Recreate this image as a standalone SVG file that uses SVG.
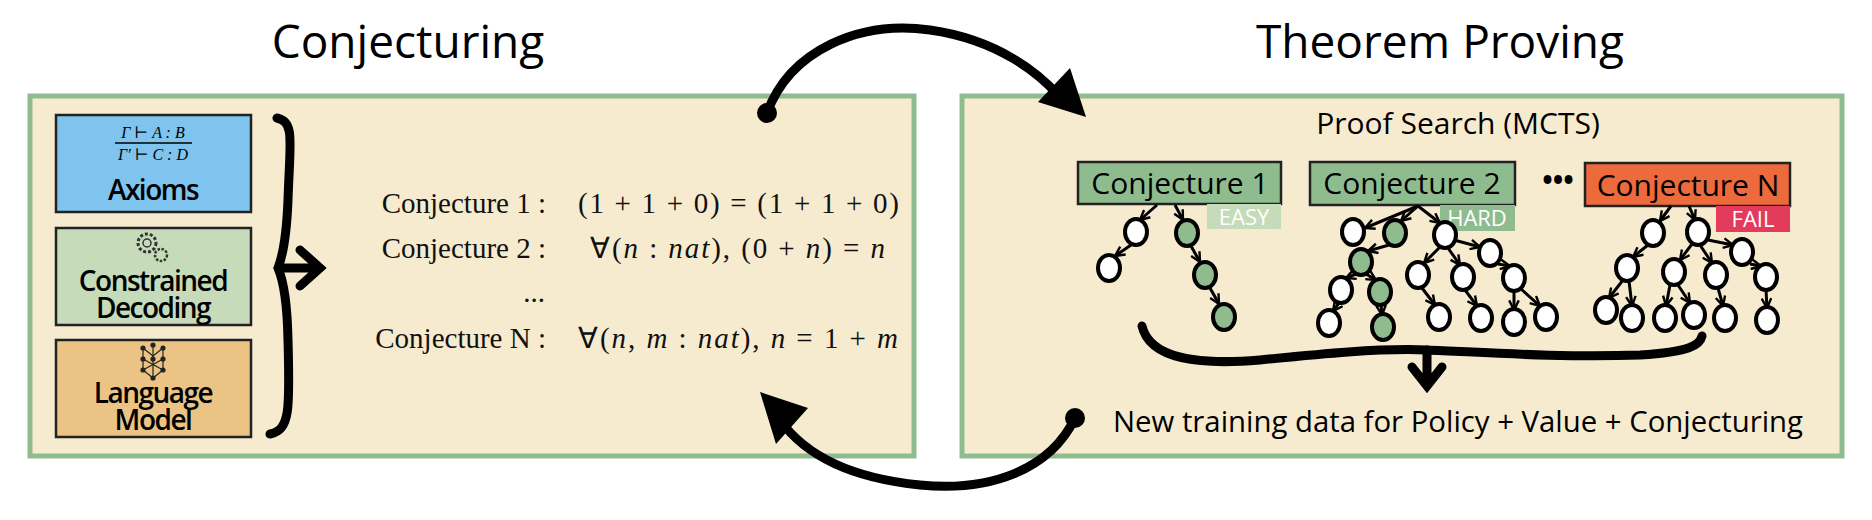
<svg xmlns="http://www.w3.org/2000/svg" width="1872" height="520" viewBox="0 0 1872 520">
<defs>
<style>
.panel{fill:#f7ebcf;stroke:#8fbc8f;stroke-width:5}
.sans{font-family:"Open Sans","DejaVu Sans",sans-serif}
.serif{font-family:"Liberation Serif","DejaVu Serif",serif}
.lbl{font-family:"Open Sans",sans-serif;font-size:30px;fill:#000}
.cj{font-family:"Liberation Serif",serif;font-size:29px;fill:#111}
.bx{font-family:"Open Sans",sans-serif;font-size:28px;font-weight:600;letter-spacing:-1.5px}
.box{stroke:#222;stroke-width:2.5}
.w{fill:#fff;stroke:#000;stroke-width:4}
.g{fill:#8fbc8f;stroke:#000;stroke-width:4}
.e{stroke:#000;stroke-width:3;fill:none;marker-end:url(#ah)}
.thick{stroke:#000;stroke-width:9;fill:none;stroke-linecap:round}
</style>
<marker id="ah" viewBox="0 0 10 10" refX="9" refY="5" markerWidth="4" markerHeight="4" orient="auto" markerUnits="strokeWidth"><path d="M1,1 L9,5 L1,9" fill="none" stroke="#000" stroke-width="2"/></marker>
</defs>
<rect width="1872" height="520" fill="#fff"/>
<text x="408" y="58" text-anchor="middle" class="sans" font-size="46">Conjecturing</text>
<text x="1440" y="58" text-anchor="middle" class="sans" font-size="46">Theorem Proving</text>

<g id="left-panel">
<rect class="panel" x="30" y="96" width="884" height="360"/>
</g>
<g id="axioms">
<rect class="box" x="56" y="115" width="195" height="97" fill="#7fc3ef"/>
<text x="153" y="138" text-anchor="middle" class="serif" font-size="16" font-style="italic">Γ ⊢ A : B</text>
<line x1="115" y1="143" x2="192" y2="143" stroke="#000" stroke-width="1.5"/>
<text x="153" y="160" text-anchor="middle" class="serif" font-size="16" font-style="italic">Γ′ ⊢ C : D</text>
<text x="153" y="200" text-anchor="middle" class="bx">Axioms</text>
</g>
<g id="constrained-decoding">
<rect class="box" x="56" y="228" width="195" height="97" fill="#c6dbb9"/>
<circle cx="147" cy="243" r="9" fill="none" stroke="#333" stroke-width="3" stroke-dasharray="3 2"/>
<circle cx="147" cy="243" r="4" fill="none" stroke="#333" stroke-width="1.5"/>
<circle cx="161" cy="255" r="6" fill="none" stroke="#333" stroke-width="2.5" stroke-dasharray="2.5 1.5"/>
<text x="153" y="291" text-anchor="middle" class="bx">Constrained</text>
<text x="153" y="318" text-anchor="middle" class="bx">Decoding</text>
</g>
<g id="language-model">
<rect class="box" x="56" y="340" width="195" height="97" fill="#ebc485"/>
<g stroke="#222" stroke-width="1.2" fill="#222">
<line x1="143" y1="348" x2="153" y2="356"/><line x1="163" y1="348" x2="153" y2="356"/>
<line x1="143" y1="348" x2="143" y2="370"/><line x1="163" y1="348" x2="163" y2="370"/>
<line x1="143" y1="359" x2="163" y2="370"/><line x1="163" y1="359" x2="143" y2="370"/>
<line x1="143" y1="370" x2="153" y2="378"/><line x1="163" y1="370" x2="153" y2="378"/>
<line x1="153" y1="345" x2="153" y2="378"/>
<circle cx="153" cy="345" r="2"/><circle cx="143" cy="348" r="2"/><circle cx="163" cy="348" r="2"/>
<circle cx="143" cy="359" r="2"/><circle cx="163" cy="359" r="2"/><circle cx="153" cy="359" r="2"/>
<circle cx="143" cy="370" r="2"/><circle cx="163" cy="370" r="2"/><circle cx="153" cy="378" r="2"/>
</g>
<text x="153" y="403" text-anchor="middle" class="bx">Language</text>
<text x="153" y="430" text-anchor="middle" class="bx">Model</text>
</g>
<g id="conjectures">
<path d="M277,118 C295,122 290,140 288,200 C286,250 280,262 278,268 C281,275 287,290 288,340 C290,410 290,430 270,434" class="thick" stroke-width="6"/>
<path d="M279,268 L318,268 M300,250 L320,268 L300,286" class="thick" stroke-width="7"/>
<text x="546" y="213" text-anchor="end" class="cj">Conjecture 1 :</text>
<text x="578" y="213" class="cj" textLength="321" lengthAdjust="spacing">(1 + 1 + 0) = (1 + 1 + 0)</text>
<text x="546" y="258" text-anchor="end" class="cj">Conjecture 2 :</text>
<text x="590" y="258" class="cj" textLength="295" lengthAdjust="spacing">∀(<tspan font-style="italic">n</tspan> : <tspan font-style="italic">nat</tspan>), (0 + <tspan font-style="italic">n</tspan>) = <tspan font-style="italic">n</tspan></text>
<text x="534" y="302" text-anchor="middle" class="cj">...</text>
<text x="546" y="348" text-anchor="end" class="cj">Conjecture N :</text>
<text x="578" y="348" class="cj" textLength="320" lengthAdjust="spacing">∀(<tspan font-style="italic">n</tspan>, <tspan font-style="italic">m</tspan> : <tspan font-style="italic">nat</tspan>), <tspan font-style="italic">n</tspan> = 1 + <tspan font-style="italic">m</tspan></text>
</g>

<g id="right-panel">
<rect class="panel" x="962" y="96" width="880" height="360"/>
<text x="1458" y="134" text-anchor="middle" class="sans" font-size="30">Proof Search (MCTS)</text>
</g>
<g id="conj1">
<rect class="box" x="1078" y="162" width="203" height="42" fill="#8fbc8f"/>
<text x="1180" y="194" text-anchor="middle" class="lbl">Conjecture 1</text>
<rect x="1207" y="204" width="74" height="25" fill="#c6dbb9"/>
<text x="1244" y="225" text-anchor="middle" class="sans" font-size="22" fill="#fff">EASY</text>
</g>
<g id="conj2">
<rect class="box" x="1310" y="162" width="205" height="43" fill="#8fbc8f"/>
<text x="1412" y="194" text-anchor="middle" class="lbl">Conjecture 2</text>
<rect x="1440" y="205" width="75" height="26" fill="#8fbc8f"/>
<text x="1477" y="226" text-anchor="middle" class="sans" font-size="22" fill="#fff">HARD</text>
</g>
<text x="1558" y="190" text-anchor="middle" class="sans" font-size="28" font-weight="bold">•••</text>
<g id="conjN">
<rect class="box" x="1585" y="163" width="205" height="43" fill="#ec6a3c"/>
<text x="1688" y="196" text-anchor="middle" class="lbl">Conjecture N</text>
<rect x="1716" y="206" width="74" height="26" fill="#e23b5c"/>
<text x="1753" y="227" text-anchor="middle" class="sans" font-size="22" fill="#fff">FAIL</text>
</g>
<g id="connectors">
<path class="e" d="M1157,205 L1140,220"/><path class="e" d="M1175,205 L1183,220"/>
<path class="e" d="M1131,245 L1115,256"/><path class="e" d="M1191,246 L1200,262"/><path class="e" d="M1210,288 L1219,304"/>
<path class="e" d="M1418,206 L1365,228" stroke-width="4"/><path class="e" d="M1418,206 L1401,221"/><path class="e" d="M1418,206 L1440,223"/>
<path class="e" d="M1389,245 L1368,251"/><path class="e" d="M1356,274 L1346,278"/><path class="e" d="M1366,274 L1376,280"/>
<path class="e" d="M1339,303 L1333,311"/><path class="e" d="M1381,305 L1382,315"/>
<path class="e" d="M1440,247 L1424,263"/><path class="e" d="M1448,248 L1460,265"/><path class="e" d="M1454,240 L1480,247"/>
<path class="e" d="M1498,264 L1510,266"/>
<path class="e" d="M1422,288 L1435,305"/><path class="e" d="M1465,290 L1477,306"/><path class="e" d="M1514,291 L1514,310"/><path class="e" d="M1521,289 L1540,306"/>
<path class="e" d="M1671,206 L1660,221"/><path class="e" d="M1689,206 L1695,220"/>
<path class="e" d="M1648,245 L1633,257"/><path class="e" d="M1692,244 L1680,260"/><path class="e" d="M1700,245 L1712,263"/><path class="e" d="M1708,240 L1733,245"/>
<path class="e" d="M1750,264 L1761,266"/>
<path class="e" d="M1623,280 L1609,298"/><path class="e" d="M1629,281 L1632,306"/><path class="e" d="M1670,285 L1666,306"/><path class="e" d="M1678,285 L1690,303"/><path class="e" d="M1718,288 L1723,306"/><path class="e" d="M1766,290 L1767,308"/>
</g>
<g id="tree-nodes">
<ellipse class="w" cx="1136" cy="232" rx="11" ry="13"/><ellipse class="g" cx="1187" cy="233" rx="11" ry="13"/>
<ellipse class="w" cx="1109" cy="268" rx="11" ry="13"/><ellipse class="g" cx="1205" cy="275" rx="11" ry="13"/><ellipse class="g" cx="1224" cy="317" rx="11" ry="13"/>
<ellipse class="w" cx="1353" cy="232" rx="11" ry="13"/><ellipse class="g" cx="1395" cy="233" rx="11" ry="13"/><ellipse class="w" cx="1445" cy="235" rx="11" ry="13"/>
<ellipse class="g" cx="1361" cy="262" rx="11" ry="13"/><ellipse class="w" cx="1490" cy="253" rx="11" ry="13"/>
<ellipse class="w" cx="1418" cy="275" rx="11" ry="13"/><ellipse class="w" cx="1463" cy="277" rx="11" ry="13"/><ellipse class="w" cx="1514" cy="278" rx="11" ry="13"/>
<ellipse class="w" cx="1341" cy="290" rx="11" ry="13"/><ellipse class="g" cx="1380" cy="292" rx="11" ry="13"/>
<ellipse class="w" cx="1329" cy="323" rx="11" ry="13"/><ellipse class="g" cx="1383" cy="327" rx="11" ry="13"/>
<ellipse class="w" cx="1439" cy="317" rx="11" ry="13"/><ellipse class="w" cx="1481" cy="318" rx="11" ry="13"/><ellipse class="w" cx="1514" cy="322" rx="11" ry="13"/><ellipse class="w" cx="1546" cy="317" rx="11" ry="13"/>
<ellipse class="w" cx="1653" cy="233" rx="11" ry="13"/><ellipse class="w" cx="1698" cy="232" rx="11" ry="13"/><ellipse class="w" cx="1742" cy="252" rx="11" ry="13"/>
<ellipse class="w" cx="1627" cy="268" rx="11" ry="13"/><ellipse class="w" cx="1674" cy="272" rx="11" ry="13"/><ellipse class="w" cx="1716" cy="275" rx="11" ry="13"/><ellipse class="w" cx="1766" cy="277" rx="11" ry="13"/>
<ellipse class="w" cx="1606" cy="310" rx="11" ry="13"/><ellipse class="w" cx="1632" cy="318" rx="11" ry="13"/><ellipse class="w" cx="1665" cy="318" rx="11" ry="13"/><ellipse class="w" cx="1694" cy="315" rx="11" ry="13"/><ellipse class="w" cx="1725" cy="318" rx="11" ry="13"/><ellipse class="w" cx="1767" cy="320" rx="11" ry="13"/>
</g>
<g id="merge">
<path class="thick" d="M1142,326 C1150,360 1200,365 1260,360 C1320,354 1380,348 1427,350 C1480,352 1560,358 1640,355 C1690,352 1700,345 1702,336"/>
<path d="M1427,350 L1427,383 M1412,367 L1427,386 L1442,367" class="thick" stroke-width="8"/>
<text x="1458" y="432" text-anchor="middle" class="sans" font-size="29" textLength="690" lengthAdjust="spacingAndGlyphs">New training data for Policy + Value + Conjecturing</text>
</g>
<g id="cycle-arrows">
<circle cx="767" cy="113" r="10" fill="#000"/>
<path d="M767,113 C790,50 860,20 930,30 C1000,40 1040,75 1058,95" class="thick" stroke-width="7"/>
<path d="M1086,117 L1038,102 L1070,68 Z" fill="#000"/>
<circle cx="1075" cy="418" r="10" fill="#000"/>
<path d="M1075,418 C1050,470 990,492 920,485 C850,478 805,455 780,420" class="thick" stroke-width="7"/>
<path d="M760,392 L808,408 L776,444 Z" fill="#000"/>
</g>
</svg>
